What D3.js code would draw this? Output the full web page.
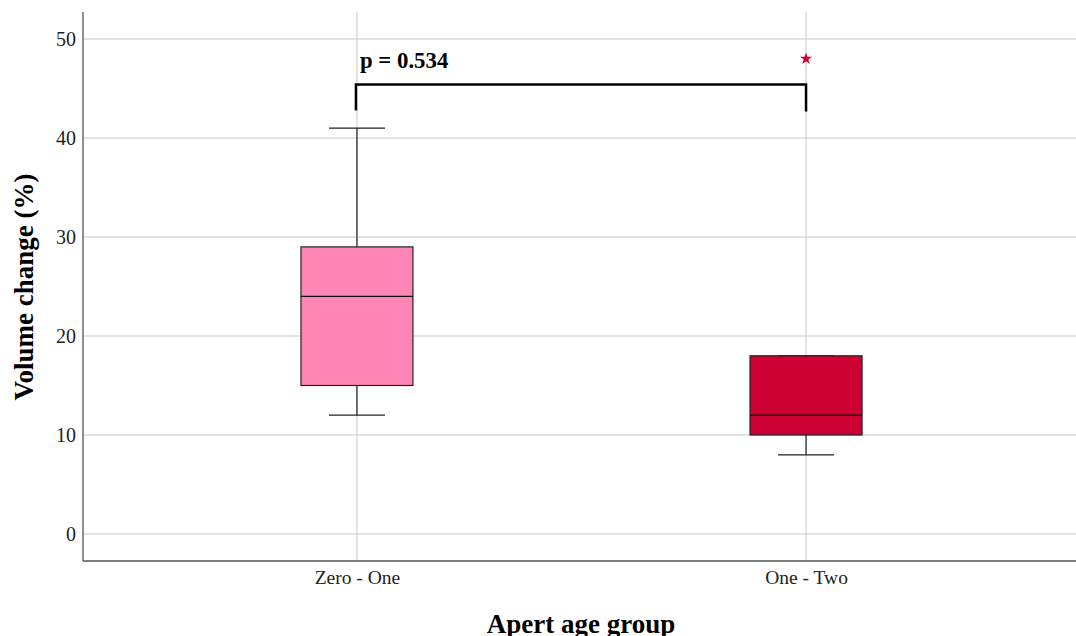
<!DOCTYPE html>
<html><head><meta charset="utf-8">
<script src="https://cdn.jsdelivr.net/npm/d3@7"></script>
<style>body{margin:0;background:#fff}svg{display:block}text{font-family:"Liberation Serif","Times New Roman",serif}</style>
</head><body><svg id="c" width="1076" height="636"></svg>
<script>
const categories = ["Zero - One", "One - Two"];
const q1 = [15, 10];
const medians = [24, 12];
const q3 = [29, 18];
const whiskerLow = [12, 8];
const whiskerHigh = [41, 18];
const outliers = [[], [48]];
const colors = ["#FF85B5", "#CC0033"];
const yTicks = [0, 10, 20, 30, 40, 50];
const pLabel = "p = 0.534";
const bracketY = 45.4;

(function () {
const svg = d3.select("#c");
const pl = 83, pb = 561, pt = 12, pr = 1080;
const y = d3.scaleLinear().domain([0, 50]).range([534, 39]);
const x = d3.scalePoint().domain(categories).range([pl, pr]).padding(0.61);

// grid
svg.append("g").selectAll("line").data(yTicks).join("line")
  .attr("x1", pl).attr("x2", 1076).attr("y1", d => y(d)).attr("y2", d => y(d))
  .attr("stroke", "#c8c8c8").attr("stroke-width", 1);
svg.append("g").selectAll("line").data(categories).join("line")
  .attr("x1", d => x(d)).attr("x2", d => x(d)).attr("y1", pt).attr("y2", pb)
  .attr("stroke", "#c8c8c8").attr("stroke-width", 1);

// axes
const ya = svg.append("g").attr("transform", `translate(${pl},0)`)
  .call(d3.axisLeft(y).tickValues(yTicks).tickSize(0).tickPadding(7));
ya.select(".domain").remove();
ya.selectAll("text").attr("font-size", 20).attr("fill", "#222").attr("font-family", "Liberation Serif");
const xa = svg.append("g").attr("transform", `translate(0,${pb})`)
  .call(d3.axisBottom(x).tickSize(0).tickPadding(9));
xa.select(".domain").remove();
xa.selectAll("text").attr("font-size", 19.5).attr("fill", "#222").attr("font-family", "Liberation Serif");

svg.append("line").attr("x1", pl).attr("x2", pl).attr("y1", pt).attr("y2", pb).attr("stroke", "#555").attr("stroke-width", 1.3);
svg.append("line").attr("x1", pl).attr("x2", 1076).attr("y1", pb).attr("y2", pb).attr("stroke", "#555").attr("stroke-width", 1.3);

// boxes
const bw = 112, cw = 56;
categories.forEach((c, i) => {
  const cx = x(c);
  const g = svg.append("g");
  if (whiskerHigh[i] > q3[i]) g.append("line").attr("x1", cx).attr("x2", cx).attr("y1", y(q3[i])).attr("y2", y(whiskerHigh[i])).attr("stroke", "#222").attr("stroke-width", 1.2);
  if (whiskerLow[i] < q1[i]) g.append("line").attr("x1", cx).attr("x2", cx).attr("y1", y(q1[i])).attr("y2", y(whiskerLow[i])).attr("stroke", "#222").attr("stroke-width", 1.2);
  g.append("line").attr("x1", cx - cw/2).attr("x2", cx + cw/2).attr("y1", y(whiskerHigh[i])).attr("y2", y(whiskerHigh[i])).attr("stroke", "#222").attr("stroke-width", 1.2);
  g.append("line").attr("x1", cx - cw/2).attr("x2", cx + cw/2).attr("y1", y(whiskerLow[i])).attr("y2", y(whiskerLow[i])).attr("stroke", "#222").attr("stroke-width", 1.2);
  g.append("rect").attr("x", cx - bw/2).attr("width", bw).attr("y", y(q3[i])).attr("height", y(q1[i]) - y(q3[i]))
    .attr("fill", colors[i]).attr("stroke", "#222").attr("stroke-width", 1.2);
  g.append("line").attr("x1", cx - bw/2).attr("x2", cx + bw/2).attr("y1", y(medians[i])).attr("y2", y(medians[i])).attr("stroke", "#111").attr("stroke-width", 1.3);
  outliers[i].forEach(o => {
    g.append("path").attr("d", d3.symbol(d3.symbolStar, 45)()).attr("transform", `translate(${cx},${y(o)})`).attr("fill", "#CC0033");
  });
});

// bracket
const x0 = x(categories[0]) - 1, x1 = x(categories[1]);
svg.append("path").attr("d", `M${x0},${y(bracketY) + 26}V${y(bracketY)}H${x1}V${y(bracketY) + 27}`)
  .attr("fill", "none").attr("stroke", "#000").attr("stroke-width", 2.5);
svg.append("text").attr("x", x0 + 4).attr("y", 68).attr("font-size", 22.8).attr("font-weight", "bold").text(pLabel);

// titles
svg.append("text").attr("transform", "translate(33,287) rotate(-90)").attr("text-anchor", "middle")
  .attr("font-size", 27).attr("font-weight", "bold").text("Volume change (%)");
svg.append("text").attr("x", 581).attr("y", 633).attr("text-anchor", "middle")
  .attr("font-size", 27).attr("font-weight", "bold").text("Apert age group");
})();
</script></body></html>
